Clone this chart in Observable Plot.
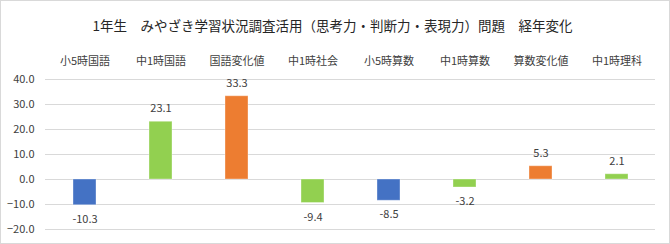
<!DOCTYPE html>
<html><head><meta charset="utf-8">
<script src="https://cdn.jsdelivr.net/npm/d3@7"></script>
<script src="https://cdn.jsdelivr.net/npm/@observablehq/plot@0.6"></script>
<style>
body{margin:0;background:#fff;}
#chart svg{outline:1px solid #d9d9d9;outline-offset:-1px;display:block;}
</style></head>
<body><div id="chart"></div>
<script>
const title = "1年生　みやざき学習状況調査活用（思考力・判断力・表現力）問題　経年変化";
const categories = ["小5時国語","中1時国語","国語変化値","中1時社会","小5時算数","中1時算数","算数変化値","中1時理科"];
const values = [-10.3, 23.1, 33.3, -9.4, -8.5, -3.2, 5.3, 2.1];
const types = ["小5","中1","変化値","中1","小5","中1","変化値","中1"];
const yTicks = [-20,-10,0,10,20,30,40];

const data = categories.map((c,i)=>({category:c, value:values[i], type:types[i]}));
const font = "'Noto Sans CJK JP', 'Noto Sans', sans-serif";

const chart = Plot.plot({
  width: 670, height: 244,
  marginLeft: 45, marginRight: 15, marginTop: 79, marginBottom: 15,
  style: {fontFamily: font, fontSize: "11px", color: "#404040", background: "#fff"},
  x: {domain: categories, paddingInner: 0.7, paddingOuter: 0.35, axis: null},
  y: {domain: [-20, 40], axis: null},
  color: {domain: ["小5","中1","変化値"], range: ["#4472C4","#92D050","#ED7D31"]},
  marks: [
    Plot.ruleY(yTicks, {stroke: "#d9d9d9", strokeWidth: 1}),
    Plot.axisX({anchor: "top", tickSize: 0, tickPadding: 15, label: null, fontSize: 11, fill: "#404040"}),
    Plot.axisY({ticks: yTicks, tickSize: 0, tickPadding: 11, tickFormat: d3.format(".1f"), label: null, fontSize: 11, fill: "#404040"}),
    Plot.barY(data, {x: "category", y: "value", fill: "type", stroke: "#fff", strokeOpacity: 0.35}),
    Plot.text(data.filter(d=>d.value>=0), {x: "category", y: "value", text: d=>d.value.toFixed(1), dy: -13, fontSize: 11, fill: "#404040"}),
    Plot.text(data.filter(d=>d.value<0), {x: "category", y: "value", text: d=>d.value.toFixed(1), dy: 14, fontSize: 11, fill: "#404040"}),
    Plot.text([title], {frameAnchor: "top", dx: -18, dy: -58, fontSize: 13.5, fill: "#262626"})
  ]
});
document.getElementById("chart").append(chart);
</script></body></html>
